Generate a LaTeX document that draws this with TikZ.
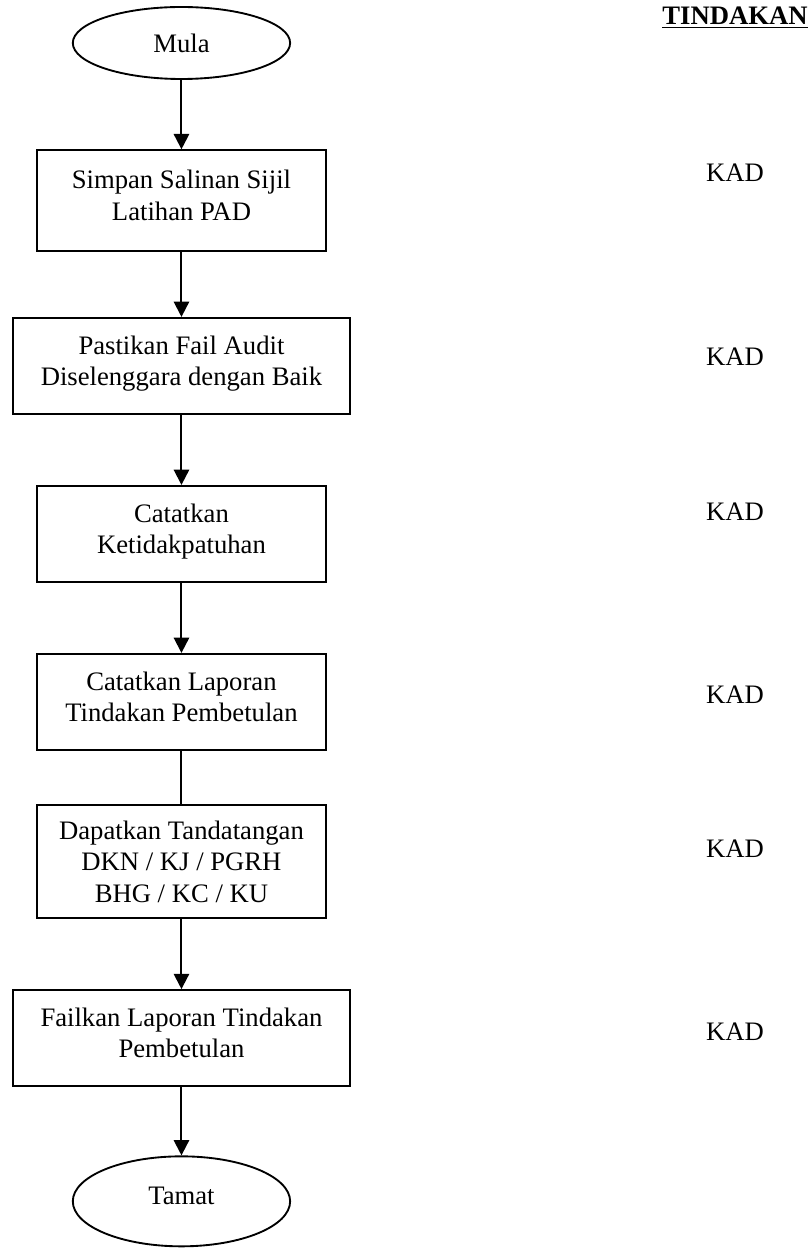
\documentclass[tikz,border=0pt]{standalone}
\usepackage{fontspec}
\setmainfont{Liberation Serif}
\usetikzlibrary{positioning,shapes.geometric,arrows.meta}
\newcommand{\lastline}{\rule[-8pt]{0pt}{8pt}}

\begin{document}
\begin{tikzpicture}[font=\fontsize{20}{23.5}\selectfont,
    step box/.style = {draw, line width=1.4pt, rectangle, align=center, minimum width=216.75pt, minimum height=72pt, inner sep=2pt},
    wide box/.style = {step box, minimum width=252.75pt},
    ends/.style = {draw, line width=1.4pt, ellipse, minimum width=163pt, minimum height=54pt, inner sep=0pt},
    who/.style = {anchor=base}]
                \useasboundingbox (0,0) rectangle (609pt,-938.25pt);
                \node[ends] (mula) at (136.1pt,-32.25pt) {Mula};
                \node[step box, minimum height=75.75pt] (1) [below=52pt of mula] {Simpan Salinan Sijil\\Latihan PAD\lastline};
                \node[wide box] (2) [below=48.6pt of 1] {Pastikan Fail Audit\\Diselenggara dengan Baik\lastline};
                \node[step box] (3) [below=52.6pt of 2] {Catatkan\\Ketidakpatuhan\lastline};
                \node[step box] (4) [below=52.6pt of 3] {Catatkan Laporan\\Tindakan Pembetulan\lastline};
                \node[step box, minimum height=84.75pt] (5) [below=40pt of 4] {Dapatkan Tandatangan\\DKN / KJ / PGRH\\BHG / KC / KU};
                \node[wide box] (6) [below=52.6pt of 5] {Failkan Laporan Tindakan\\Pembetulan\lastline};
                \node[ends, minimum height=67.5pt] (tamat) [below=51.3pt of 6] {Tamat\lastline};
                % lajur tindakan
                \node[who] (t0) at (551.25pt,-18.75pt) {\underline{\textbf{TINDAKAN}}};
                \node[who] (t1) at (551.25pt,-136.5pt) {KAD};
                \node[who] (t2) at (551.25pt,-273.75pt) {KAD};
                \node[who] (t3) at (551.25pt,-390pt) {KAD};
                \node[who] (t4) at (551.25pt,-527.25pt) {KAD};
                \node[who] (t5) at (551.25pt,-642.75pt) {KAD};
                \node[who] (t6) at (551.25pt,-780pt) {KAD};
                \path[line width=1.5pt, -{Triangle[width=11.5pt,length=11.5pt]}]
                    (mula) edge (1)
                    (1) edge (2)
                    (2) edge (3)
                    (3) edge (4)
                    (4) edge[-] (5)
                    (5) edge (6)
                    (6) edge (tamat);
            \end{tikzpicture}
\end{document}
